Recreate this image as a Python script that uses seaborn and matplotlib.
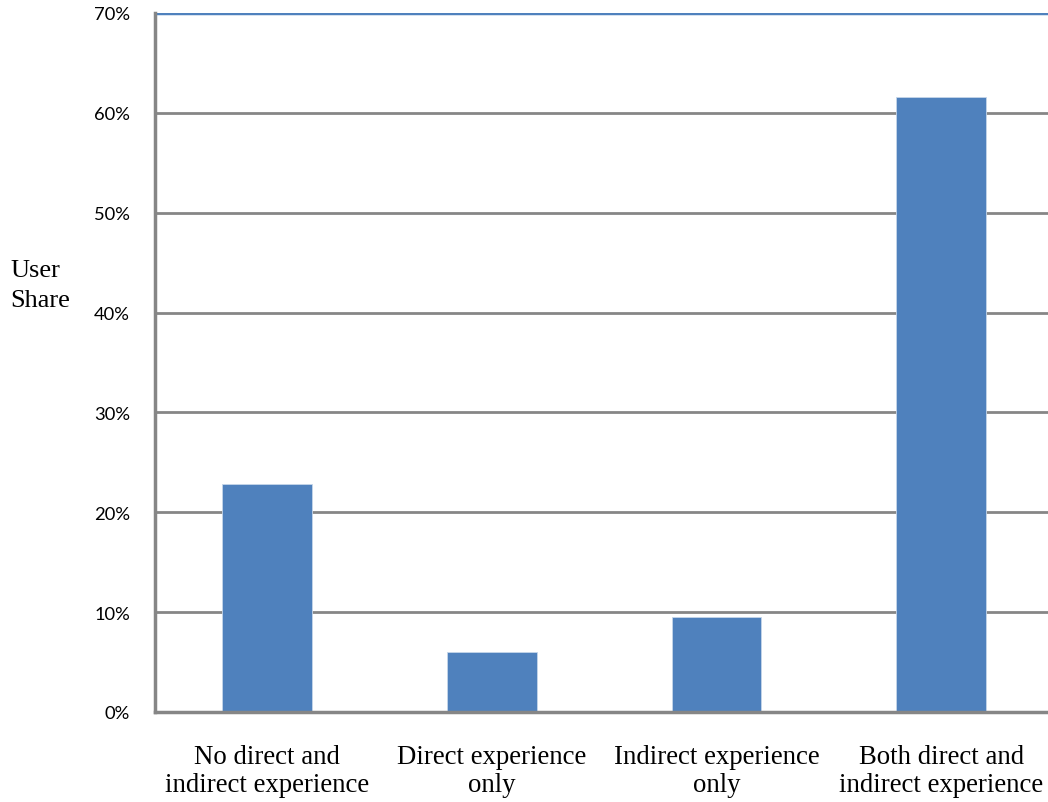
import matplotlib
matplotlib.use("Agg")
import matplotlib.pyplot as plt
import seaborn as sns
import pandas as pd
from matplotlib.ticker import FuncFormatter

categories = [
    "No direct and\nindirect experience",
    "Direct experience\nonly",
    "Indirect experience\nonly",
    "Both direct and\nindirect experience",
]
user_share = [22.8, 6.0, 9.5, 61.6]
y_ticks = [0, 10, 20, 30, 40, 50, 60, 70]

df = pd.DataFrame({"category": categories, "share": user_share})

sns.set_theme(style="white")
fig = plt.figure(figsize=(10.48, 8.03), dpi=100)
ax = fig.add_axes([155 / 1048, 1 - 713 / 803, 898.4 / 1048, (713 - 14) / 803])

grid_color = "#868686"
for t in y_ticks[1:-1]:
    ax.axhline(t, color=grid_color, lw=2, zorder=0)
ax.axhline(70, color="#4F81BD", lw=2.5, zorder=0)

sns.barplot(data=df, x="category", y="share", color="#4F81BD", saturation=1,
            width=0.4, edgecolor="#C6D6EA", linewidth=0.6, ax=ax, zorder=2)

ax.set_ylim(0, 70)
ax.set_xlim(-0.5, 3.5)
ax.set_yticks(y_ticks)
ax.yaxis.set_major_formatter(FuncFormatter(lambda v, p: f"{int(v)}%"))
ax.tick_params(axis="y", length=0, pad=18, labelsize=13.2, labelcolor="black")
ax.tick_params(axis="x", length=0, pad=23, labelsize=19.3, labelcolor="black")
for lbl in ax.get_yticklabels():
    lbl.set_fontfamily(["Lato", "DejaVu Sans"])
for lbl in ax.get_xticklabels():
    lbl.set_fontfamily(["Liberation Serif", "DejaVu Serif"])
    lbl.set_linespacing(1.16)
ax.set_xlabel("")
ax.set_ylabel("")

for side in ["top", "right"]:
    ax.spines[side].set_visible(False)
ax.spines["left"].set_color(grid_color)
ax.spines["left"].set_linewidth(2.5)
ax.spines["bottom"].set_color(grid_color)
ax.spines["bottom"].set_linewidth(2.5)

fig.text(10 / 1048, 1 - 286 / 803, "User\nShare", fontsize=19, color="black",
         family=["Liberation Serif", "DejaVu Serif"], ha="left", va="center",
         linespacing=1.42)

fig.savefig("out.png", dpi=100, facecolor="white")
